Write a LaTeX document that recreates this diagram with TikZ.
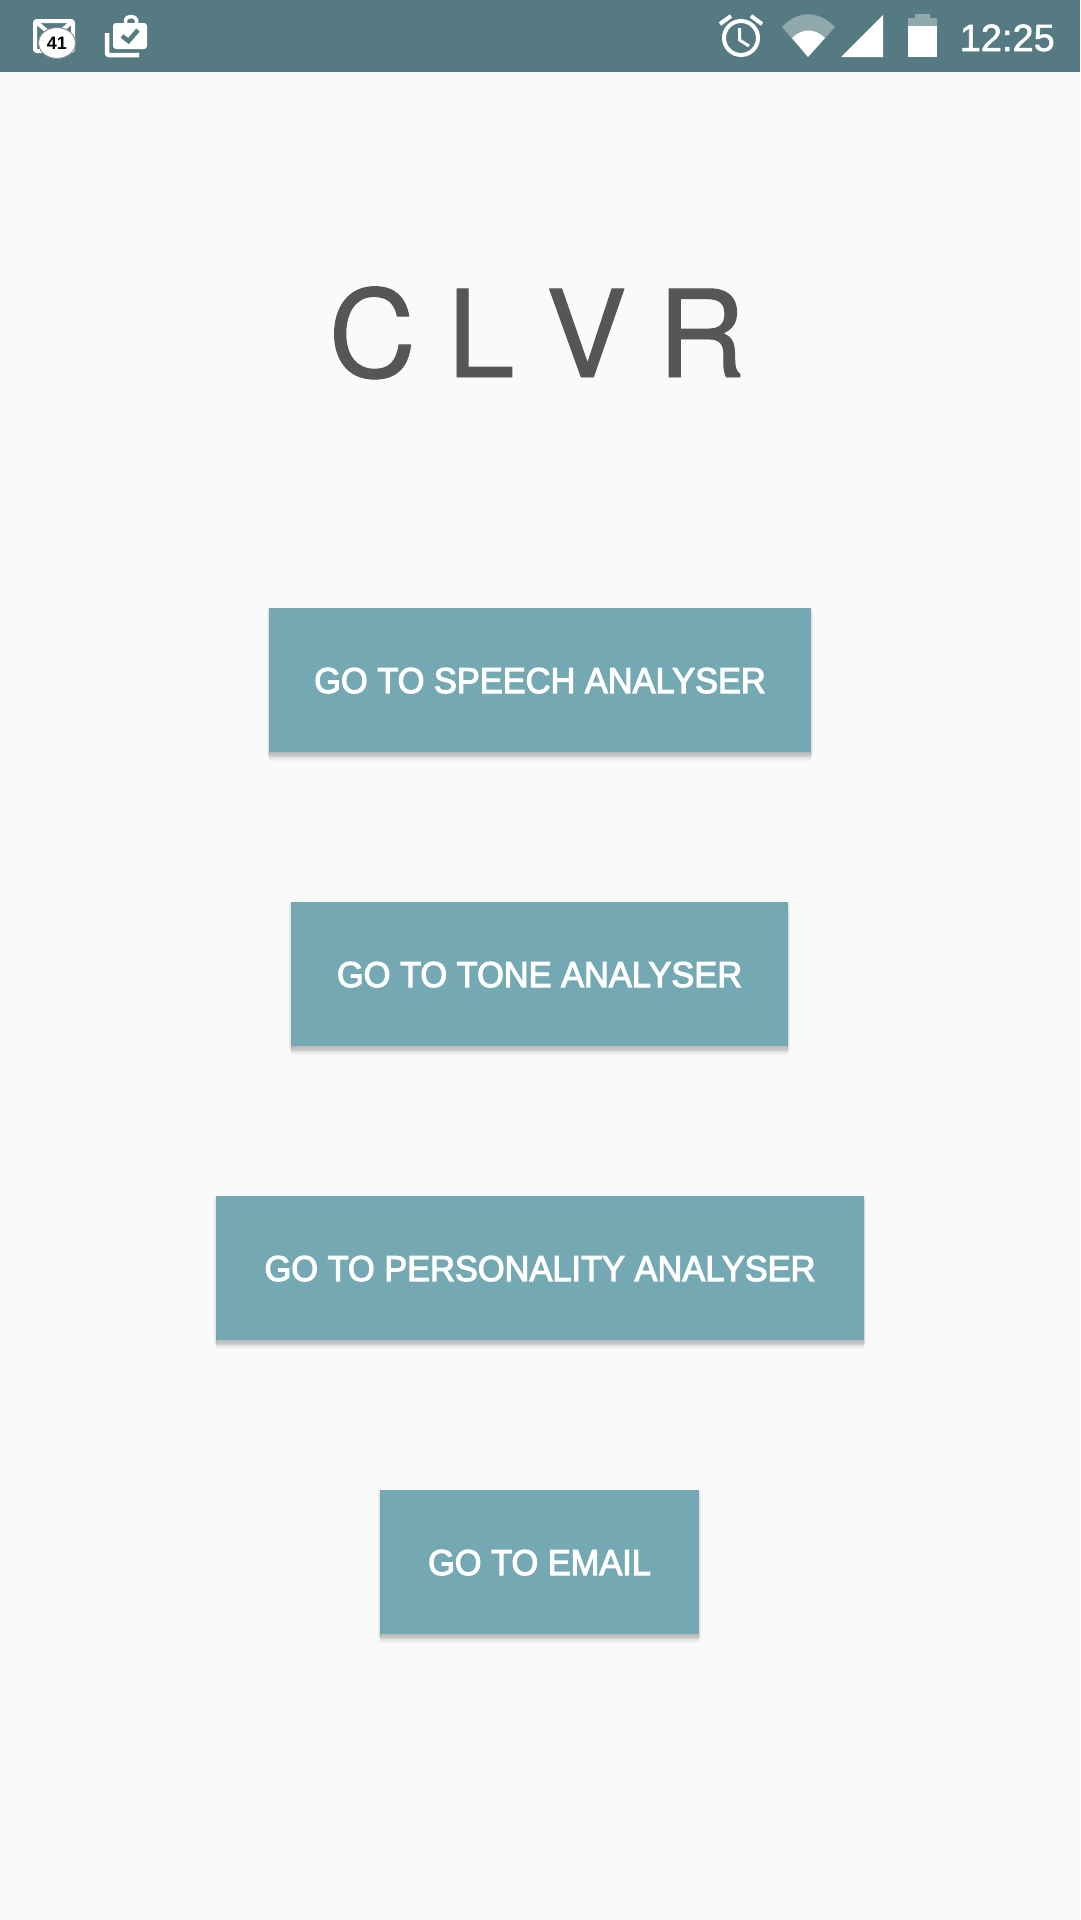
\documentclass[tikz,border=0pt]{standalone}
\usepackage{fontspec}
\usetikzlibrary{shapes.geometric}
\setmainfont{Liberation Sans}
\newfontfamily\titlefont[WordSpace=0.93,FakeBold=0.8]{TeX Gyre Heros}
\newfontfamily\btnfont[FakeBold=3,FakeStretch=0.955]{Liberation Sans}
\newfontfamily\clockfont[FakeBold=1.5]{Liberation Sans}
\definecolor{barbg}{HTML}{567A82}
\definecolor{pagebg}{HTML}{FAFAFA}
\definecolor{btnbg}{HTML}{74A9B3}
\definecolor{dimicon}{HTML}{8FA9AD}
\definecolor{titlecol}{HTML}{565656}
\tikzset{
  shadowlayer/.style 2 args={preaction={fill=black,draw=black,line width=#2,opacity=.024,line join=round,transform canvas={yshift=-#1}}},
  btnbox/.style={fill=btnbg,text=white,inner sep=0pt,text height=26pt,text depth=0pt,
    font=\btnfont\fontsize{36}{36}\selectfont,
    shadowlayer={9pt}{0.01pt},shadowlayer={8pt}{0.01pt},shadowlayer={7pt}{0.01pt},shadowlayer={6pt}{0.01pt},shadowlayer={5pt}{0.01pt},
    shadowlayer={4pt}{2pt},shadowlayer={3pt}{4pt},shadowlayer={2pt}{4pt},shadowlayer={1pt}{2pt}},
  iconline/.style={draw=white,line width=4pt,fill=none},
  darkline/.style={draw=barbg,line width=4pt,fill=none},
}
\begin{document}
\begin{tikzpicture}[x=1pt,y=-1pt]
\useasboundingbox (0,0) rectangle (1080,1920);
\fill[pagebg] (0,0) rectangle (1080,1920);
\fill[barbg] (0,0) rectangle (1080,72);
% gmail icon
\draw[iconline,rounded corners=2pt] (35,21) rectangle (73,51);
\draw[iconline] (35,21) -- (54,37) -- (73,21);
\node[ellipse,draw=black!45,fill=white,line width=1pt,minimum width=37pt,minimum height=31pt,inner sep=0pt,font=\bfseries\fontsize{18}{18}\selectfont,text=black] (badge) at (57,43) {41};
% briefcase icon
\draw[draw=white,line width=3.5pt] (125.5,23) -- (125.5,20) arc[start angle=180,end angle=360,x radius=5.5pt,y radius=-3.5pt] -- (136.5,23);
\fill[white,rounded corners=3pt] (113,23) rectangle (147,49);
\draw[darkline,line width=4.5pt] (122,36) -- (128.5,41) -- (138,30);
\draw[iconline,line width=4.5pt,line cap=butt,rounded corners=2pt] (107,33) -- (107,55) -- (139,55);
% alarm
\draw[iconline] (741,38) circle[radius=17pt];
\draw[draw=white,line width=3pt] (739.5,28) -- (739.5,40) -- (749,46);
\draw[iconline] (720,24) -- (731,16);
\draw[iconline] (751,16) -- (762,24);
% wifi
\fill[dimicon] (808,57) -- (782,27) .. controls (798,10) and (818,10) .. (835,27) -- cycle;
\fill[white] (808,57) -- (792,38) .. controls (802,28) and (815,28) .. (825,38) -- cycle;
% signal
\fill[white] (841,57) -- (883,57) -- (883,15) -- cycle;
% battery
\fill[dimicon] (908,26) -- (908,18) -- (915,18) -- (915,14) -- (930,14) -- (930,18) -- (937,18) -- (937,26) -- cycle;
\fill[white] (908,26) rectangle (937,57);
% clock
\node[anchor=east,inner sep=0pt,text=white,font=\clockfont\fontsize{38}{38}\selectfont,text height=26pt,text depth=0pt] (clock) at (1055,38) {12:25};
% title
\node[inner sep=0pt,text=titlecol,font=\titlefont\fontsize{121}{121}\selectfont,text height=87pt,text depth=0pt] (title) at (537,333.5) {C L V R};
% buttons
\node[btnbox,minimum width=542pt,minimum height=144pt] (b1) at (540,680) {GO TO SPEECH ANALYSER};
\node[btnbox,minimum width=497pt,minimum height=144pt] (b2) at (539.5,974) {GO TO TONE ANALYSER};
\node[btnbox,minimum width=648pt,minimum height=144pt] (b3) at (540,1268) {GO TO PERSONALITY ANALYSER};
\node[btnbox,minimum width=319pt,minimum height=144pt] (b4) at (539.5,1562) {GO TO EMAIL};
\end{tikzpicture}
\end{document}
